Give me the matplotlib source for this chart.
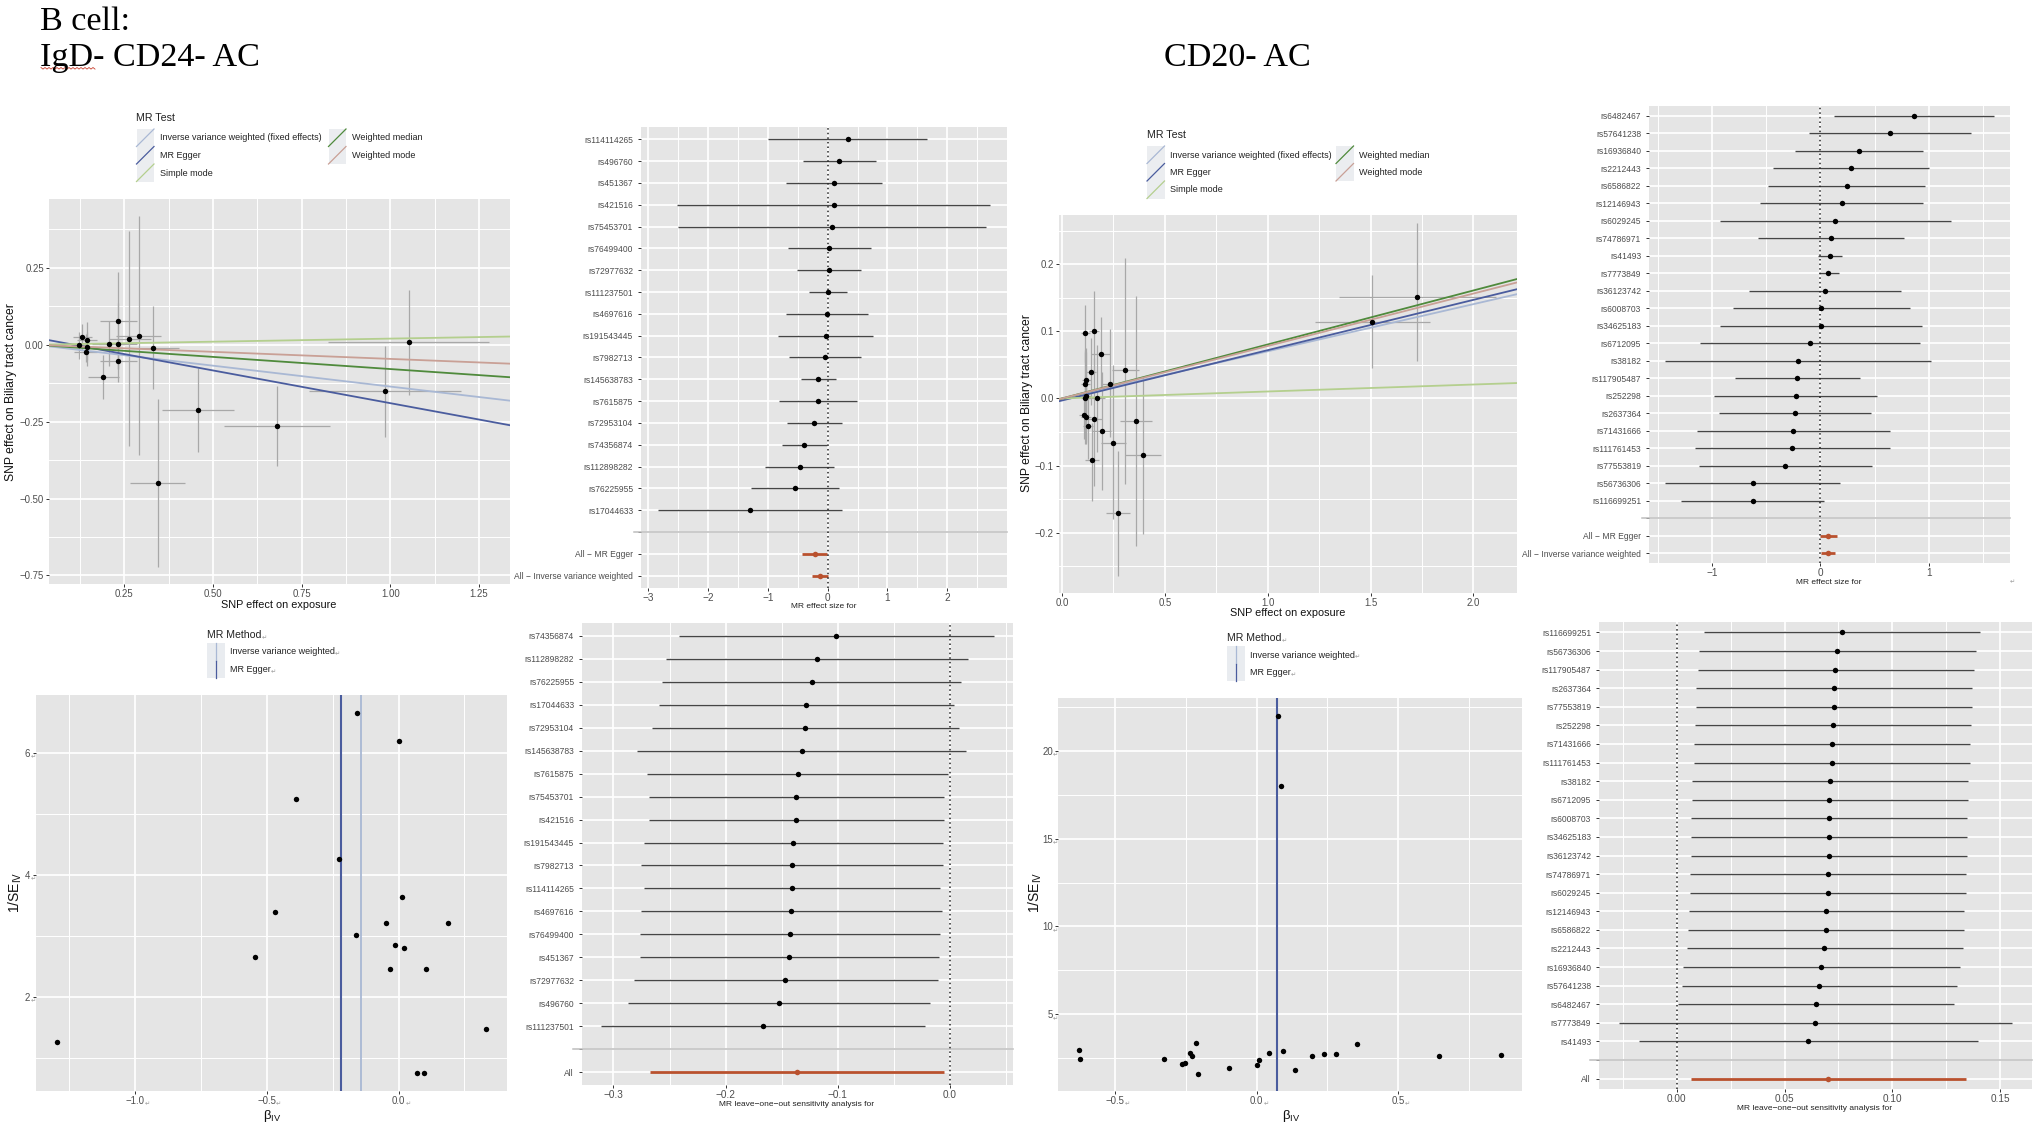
from matplotlib import pyplot as plt
from matplotlib.patches import Rectangle
from matplotlib.ticker import FixedLocator

plt.rcParams['font.family'] = ['Liberation Sans', 'DejaVu Sans']
plt.rcParams['mathtext.default'] = 'regular'

W = 2039
H = 1128

# colours of the MR methods
C_IVW = "#A9B8D4"
C_EGGER = "#4A5C9E"
C_SIMPLE = "#B4CF8E"
C_MEDIAN = "#4F8A3C"
C_MODE = "#C9A096"
C_RED = "#B9512E"
C_BAR = "#A8A8A8"
C_LINE = "#454545"

METHODS = ["Inverse variance weighted (fixed effects)", "MR Egger", "Simple mode", "Weighted median", "Weighted mode"]
METHOD_COLORS = [C_IVW, C_EGGER, C_SIMPLE, C_MEDIAN, C_MODE]

# ---------- IgD- CD24- AC ----------
# scatter: x, y and the error bar ends
a_x = [0.2335, 0.2645, 0.292, 0.332, 0.132, 0.145, 0.122, 0.145, 0.141, 0.206, 0.232, 0.2335, 0.191, 0.459, 0.681, 0.345, 0.985, 1.051]
a_y = [0.078, 0.02, 0.029, -0.01, 0.025, 0.015, 0.0, -0.006, -0.024, 0.004, 0.004, -0.052, -0.105, -0.213, -0.263, -0.449, -0.151, 0.008]
a_xlo = [0.182, 0.206, 0.228, 0.262, 0.107, 0.118, 0.1, 0.12, 0.108, 0.16, 0.18, 0.182, 0.148, 0.357, 0.531, 0.267, 0.77, 0.824]
a_xhi = [0.286, 0.325, 0.355, 0.405, 0.159, 0.172, 0.145, 0.17, 0.172, 0.25, 0.285, 0.286, 0.235, 0.56, 0.83, 0.422, 1.2, 1.279]
a_ylo = [-0.08, -0.329, -0.36, -0.145, -0.017, -0.069, -0.045, -0.05, -0.055, -0.069, -0.08, -0.12, -0.178, -0.349, -0.394, -0.722, -0.299, -0.164]
a_yhi = [0.236, 0.37, 0.418, 0.126, 0.067, 0.075, 0.04, 0.04, 0.035, 0.078, 0.135, 0.004, -0.034, -0.077, -0.134, -0.178, -0.004, 0.178]
a_slopes = [-0.136, -0.213, 0.02, -0.079, -0.046]
a_intercepts = [0.0, 0.023, 0.0, 0.0, 0.0]

# forest
b_labels = ["rs114114265", "rs496760", "rs451367", "rs421516", "rs75453701", "rs76499400", "rs72977632", "rs111237501", "rs4697616", "rs191543445", "rs7982713", "rs145638783", "rs7615875", "rs72953104", "rs74356874", "rs112898282", "rs76225955", "rs17044633", "", "All − MR Egger", "All − Inverse variance weighted"]
b_beta = [0.335, 0.19, 0.106, 0.1, 0.073, 0.022, 0.017, 0.006, -0.011, -0.033, -0.045, -0.156, -0.156, -0.223, -0.39, -0.469, -0.547, -1.306, None, -0.218, -0.134]
b_lo = [-1.0, -0.413, -0.692, -2.52, -2.505, -0.67, -0.519, -0.307, -0.698, -0.826, -0.653, -0.446, -0.809, -0.681, -0.759, -1.044, -1.283, -2.846, None, -0.43, -0.268]
b_hi = [1.668, 0.804, 0.91, 2.72, 2.656, 0.725, 0.558, 0.324, 0.681, 0.765, 0.564, 0.14, 0.497, 0.24, -0.017, 0.112, 0.195, 0.24, None, -0.005, -0.002]

# funnel
c_beta = [-0.158, 0.001, -0.388, -0.224, 0.014, -0.467, -0.049, 0.187, -0.162, -0.013, 0.019, -0.545, -0.033, 0.105, 0.331, -1.296, 0.071, 0.096]
c_inv_se = [6.656, 6.19, 5.246, 4.257, 3.645, 3.399, 3.219, 3.219, 3.011, 2.852, 2.809, 2.656, 2.459, 2.454, 1.475, 1.273, 0.765, 0.754]
c_ivw = -0.141
c_egger = -0.217

# leave one out
d_labels = ["rs74356874", "rs112898282", "rs76225955", "rs17044633", "rs72953104", "rs145638783", "rs7615875", "rs75453701", "rs421516", "rs191543445", "rs7982713", "rs114114265", "rs4697616", "rs76499400", "rs451367", "rs72977632", "rs496760", "rs111237501", "", "All"]
d_beta = [-0.1014, -0.1186, -0.1231, -0.1279, -0.129, -0.1323, -0.1356, -0.1371, -0.1371, -0.1395, -0.1409, -0.1412, -0.1415, -0.1424, -0.1433, -0.1466, -0.1528, -0.1665, None, -0.1365]
d_lo = [-0.2415, -0.2533, -0.2566, -0.2596, -0.2658, -0.2789, -0.2697, -0.2682, -0.2685, -0.2727, -0.2753, -0.273, -0.275, -0.2762, -0.2765, -0.2819, -0.2869, -0.3107, None, -0.2676]
d_hi = [0.039, 0.0164, 0.0101, 0.0039, 0.008, 0.0143, -0.0015, -0.0054, -0.0054, -0.0062, -0.0062, -0.0089, -0.0074, -0.0086, -0.0101, -0.0107, -0.0181, -0.022, None, -0.0051]

# ---------- CD20- AC ----------
e_x = [1.728, 1.507, 0.112, 0.154, 0.188, 0.139, 0.306, 0.117, 0.112, 0.233, 0.115, 0.113, 0.169, 0.107, 0.115, 0.154, 0.125, 0.193, 0.358, 0.248, 0.395, 0.146, 0.272]
e_y = [0.152, 0.114, 0.0975, 0.1, 0.067, 0.04, 0.042, 0.028, 0.022, 0.022, 0.0035, 0.001, 0.0005, -0.025, -0.027, -0.031, -0.041, -0.048, -0.034, -0.066, -0.084, -0.0915, -0.171]
e_xlo = [1.347, 1.228, 0.09, 0.13, 0.143, 0.115, 0.243, 0.095, 0.09, 0.19, 0.09, 0.09, 0.125, 0.085, 0.09, 0.115, 0.1, 0.145, 0.28, 0.19, 0.305, 0.114, 0.212]
e_xhi = [2.11, 1.788, 0.135, 0.18, 0.233, 0.165, 0.373, 0.14, 0.135, 0.28, 0.14, 0.137, 0.21, 0.13, 0.14, 0.195, 0.15, 0.24, 0.4376, 0.31, 0.483, 0.18, 0.332]
e_ylo = [0.056, 0.0457, 0.055, 0.04, 0.012, -0.01, -0.127, -0.02, -0.03, -0.058, -0.065, -0.068, -0.08, -0.06, -0.068, -0.13, -0.09, -0.137, -0.22, -0.18, -0.202, -0.153, -0.2645]
e_yhi = [0.2615, 0.1835, 0.14, 0.16, 0.122, 0.09, 0.21, 0.075, 0.072, 0.104, 0.07, 0.07, 0.08, 0.01, 0.02, 0.06, 0.01, 0.04, 0.153, 0.05, 0.032, -0.037, -0.0786]
e_slopes = [0.0703, 0.075, 0.0104, 0.0805, 0.0782]
e_intercepts = [0.0, -0.003, 0.0, 0.0, 0.0]

f_labels = ["rs6482467", "rs57641238", "rs16936840", "rs2212443", "rs6586822", "rs12146943", "rs6029245", "rs74786971", "rs41493", "rs7773849", "rs36123742", "rs6008703", "rs34625183", "rs6712095", "rs38182", "rs117905487", "rs252298", "rs2637364", "rs71431666", "rs111761453", "rs77553819", "rs56736306", "rs116699251", "", "All − MR Egger", "All − Inverse variance weighted"]
f_beta = [0.861, 0.645, 0.358, 0.281, 0.241, 0.198, 0.136, 0.093, 0.086, 0.074, 0.043, 0.009, 0.003, -0.096, -0.207, -0.216, -0.228, -0.238, -0.253, -0.262, -0.327, -0.623, -0.627, None, 0.071, 0.068]
f_lo = [0.127, -0.102, -0.238, -0.438, -0.485, -0.556, -0.932, -0.58, -0.019, -0.009, -0.657, -0.809, -0.932, -1.111, -1.435, -0.793, -0.981, -0.938, -1.139, -1.164, -1.127, -1.435, -1.29, None, 0.0, 0.006]
f_hi = [1.602, 1.395, 0.951, 1.003, 0.969, 0.951, 1.207, 0.772, 0.198, 0.167, 0.747, 0.83, 0.938, 0.923, 1.022, 0.37, 0.525, 0.466, 0.639, 0.642, 0.475, 0.185, 0.037, None, 0.151, 0.133]

g_beta = [0.0743, 0.0861, -0.627, -0.625, -0.328, -0.264, -0.2535, -0.237, -0.2276, -0.2134, -0.206, -0.0967, 0.0012, 0.0083, 0.0448, 0.0932, 0.1344, 0.1958, 0.2394, 0.2795, 0.355, 0.645, 0.862]
g_inv_se = [21.99, 17.99, 2.97, 2.44, 2.48, 2.19, 2.23, 2.80, 2.63, 3.39, 1.62, 1.97, 2.12, 2.40, 2.82, 2.91, 1.85, 2.63, 2.72, 2.74, 3.33, 2.63, 2.67]
g_ivw = 0.0705
g_egger = 0.0735

h_labels = ["rs116699251", "rs56736306", "rs117905487", "rs2637364", "rs77553819", "rs252298", "rs71431666", "rs111761453", "rs38182", "rs6712095", "rs6008703", "rs34625183", "rs36123742", "rs74786971", "rs6029245", "rs12146943", "rs6586822", "rs2212443", "rs16936840", "rs57641238", "rs6482467", "rs7773849", "rs41493", "", "All"]
h_beta = [0.0767, 0.0745, 0.0736, 0.0728, 0.0728, 0.0724, 0.0719, 0.0719, 0.071, 0.0708, 0.0705, 0.0705, 0.0704, 0.0701, 0.0701, 0.0693, 0.069, 0.0685, 0.067, 0.066, 0.0644, 0.0642, 0.061, None, 0.0702]
h_lo = [0.0128, 0.0106, 0.0097, 0.0088, 0.0088, 0.0083, 0.008, 0.008, 0.0073, 0.0071, 0.0068, 0.0068, 0.0065, 0.0062, 0.0063, 0.0056, 0.0051, 0.0048, 0.0029, 0.0023, 0.0005, -0.0269, -0.0174, None, 0.0066]
h_hi = [0.1407, 0.1387, 0.138, 0.137, 0.1369, 0.1364, 0.136, 0.136, 0.135, 0.1349, 0.1346, 0.1344, 0.1344, 0.1341, 0.134, 0.1333, 0.133, 0.1326, 0.1312, 0.1301, 0.1284, 0.1554, 0.1397, None, 0.1341]


def add_panel(fig, left, top, right, bottom):
    """axes placed by picture pixels, ggplot grey look"""
    ax = fig.add_axes([left / W, 1 - bottom / H, (right - left) / W, (bottom - top) / H])
    ax.set_facecolor("#E5E5E5")
    for s in ax.spines.values():
        s.set_visible(False)
    ax.set_axisbelow(True)
    ax.tick_params(which="major", length=2.2, width=0.7, color="#333333", labelcolor="#4D4D4D", labelsize=6.9, pad=1.5)
    ax.tick_params(which="minor", length=0)
    ax.grid(which="major", color="white", linewidth=1.25)
    ax.grid(which="minor", color="white", linewidth=0.7)
    return ax


def set_ticks(ax, xticks, xlabels, yticks, ylabels, xminor=None, yminor=None):
    ax.set_xticks(xticks)
    ax.set_xticklabels(xlabels)
    ax.set_yticks(yticks)
    ax.set_yticklabels(ylabels)
    if xminor is not None:
        ax.xaxis.set_minor_locator(FixedLocator(xminor))
    if yminor is not None:
        ax.yaxis.set_minor_locator(FixedLocator(yminor))


def plot_scatter(ax, x, y, xlo, xhi, ylo, yhi, slopes, intercepts, xlim, ylim):
    ax.hlines(y, xlo, xhi, color=C_BAR, linewidth=0.9, zorder=2)
    ax.vlines(x, ylo, yhi, color=C_BAR, linewidth=0.9, zorder=2)
    ax.set_xlim(xlim)
    ax.set_ylim(ylim)
    for slope, intercept, color in zip(slopes, intercepts, METHOD_COLORS):
        ax.axline((0, intercept), slope=slope, color=color, linewidth=1.3, zorder=3)
    ax.plot(x, y, "o", color="black", markersize=3.9, markeredgewidth=0, zorder=4)


def plot_forest(ax, labels, beta, lo, hi, xticks, xlabels, xminor, xlim, expand=0.56):
    rows = list(range(len(labels)))
    set_ticks(ax, xticks, xlabels, rows, labels, xminor=xminor)
    ax.tick_params(axis="y", labelsize=6.15, pad=3.5)
    ax.tick_params(axis="x", labelsize=7.2)
    for r, label, b, l, h in zip(rows, labels, beta, lo, hi):
        if label == "":
            ax.plot([-0.02, 1], [r, r], color="#BDBDBD", linewidth=1.1, transform=ax.get_yaxis_transform(), clip_on=False, zorder=2)
        elif label.startswith("All"):
            ax.plot([l, h], [r, r], color=C_RED, linewidth=2.0, zorder=3, solid_capstyle="butt")
            ax.plot([b], [r], "o", color=C_RED, markersize=4.0, markeredgewidth=0, zorder=4)
        else:
            ax.plot([l, h], [r, r], color=C_LINE, linewidth=1.0, zorder=3, solid_capstyle="butt")
            ax.plot([b], [r], "o", color="black", markersize=3.9, markeredgewidth=0, zorder=4)
    ax.axvline(0, color="#222222", linewidth=1.1, linestyle=(0, (1, 2.0)), zorder=3)
    ax.set_xlim(xlim)
    ax.set_ylim(len(labels) - 1 + expand, -expand)


def plot_funnel(ax, beta, inv_se, ivw, egger, xlim, ylim):
    ax.axvline(ivw, color=C_IVW, linewidth=1.3, zorder=2)
    ax.axvline(egger, color=C_EGGER, linewidth=1.5, zorder=2)
    ax.plot(beta, inv_se, "o", color="black", markersize=3.9, markeredgewidth=0, zorder=3)
    ax.set_xlim(xlim)
    ax.set_ylim(ylim)
    # stray return marks pasted along with the numbers
    for lab in ax.get_xticklabels() + ax.get_yticklabels():
        ax.annotate("↵", xy=(1, 0.05), xycoords=lab, fontsize=4.5, color="#9A9A9A")


def scatter_legend(ov, x, y, col_gap):
    """x, y: top left of the legend keys, title above"""
    ov.text(x, y - 11, "MR Test", fontsize=7.7, color="#222222", va="center")
    for i, (name, color) in enumerate(zip(METHODS, METHOD_COLORS)):
        kx = x if i < 3 else x + col_gap
        ky = y + 17.5 * (i if i < 3 else i - 3)
        ov.add_patch(Rectangle((kx, ky), 17.5, 17.5, facecolor="#EBEDF0", edgecolor="none"))
        ov.plot([kx, kx + 17.5], [ky + 17.5, ky], color=color, linewidth=0.9)
        ov.text(kx + 23, ky + 9, name, fontsize=6.45, color="#222222", va="center")


def funnel_legend(ov, x, y):
    t = ov.text(x, y - 8, "MR Method", fontsize=7.6, color="#222222", va="center")
    ov.annotate("↵", xy=(1, 0.1), xycoords=t, fontsize=4.5, color="#9A9A9A")
    for i, (name, color) in enumerate(zip(["Inverse variance weighted", "MR Egger"], [C_IVW, C_EGGER])):
        ky = y + 17.5 * i
        ov.add_patch(Rectangle((x, ky), 17.5, 17.5, facecolor="#E9ECF0", edgecolor="none"))
        ov.plot([x + 9, x + 9], [ky, ky + 17.5], color=color, linewidth=0.9)
        t = ov.text(x + 23, ky + 9, name, fontsize=6.45, color="#222222", va="center")
        ov.annotate("↵", xy=(1, 0.1), xycoords=t, fontsize=4.5, color="#9A9A9A")


def main():
    fig = plt.figure(figsize=(W / 100, H / 100), dpi=100)
    fig.patch.set_facecolor("white")

    # scatter, IgD- CD24- AC
    ax = add_panel(fig, 49, 199, 510, 584)
    set_ticks(ax, [0.25, 0.5, 0.75, 1.0, 1.25], ["0.25", "0.50", "0.75", "1.00", "1.25"],
              [-0.75, -0.5, -0.25, 0, 0.25], ["−0.75", "−0.50", "−0.25", "0.00", "0.25"],
              xminor=[0.125, 0.375, 0.625, 0.875, 1.125], yminor=[-0.625, -0.375, -0.125, 0.125, 0.375])
    plot_scatter(ax, a_x, a_y, a_xlo, a_xhi, a_ylo, a_yhi, a_slopes, a_intercepts, (0.038, 1.337), (-0.778, 0.474))

    # forest
    ax = add_panel(fig, 641, 127, 1007, 588)
    plot_forest(ax, b_labels, b_beta, b_lo, b_hi, [-3, -2, -1, 0, 1, 2], ["−3", "−2", "−1", "0", "1", "2"],
                [-2.5, -1.5, -0.5, 0.5, 1.5, 2.5], (-3.125, 3.0))

    # funnel
    ax = add_panel(fig, 35.5, 695, 507, 1091)
    set_ticks(ax, [-1.0, -0.5, 0.0], ["−1.0", "−0.5", "0.0"], [2, 4, 6], ["2", "4", "6"],
              xminor=[-1.25, -0.75, -0.25, 0.25], yminor=[1, 3, 5])
    plot_funnel(ax, c_beta, c_inv_se, c_ivw, c_egger, (-1.377, 0.4115), (0.464, 6.945))

    # leave one out
    ax = add_panel(fig, 582, 623, 1013, 1085)
    plot_forest(ax, d_labels, d_beta, d_lo, d_hi, [-0.3, -0.2, -0.1, 0.0], ["−0.3", "−0.2", "−0.1", "0.0"],
                [-0.25, -0.15, -0.05, 0.05], (-0.328, 0.0562))

    # scatter, CD20- AC
    ax = add_panel(fig, 1059, 215, 1517, 593)
    set_ticks(ax, [0, 0.5, 1.0, 1.5, 2.0], ["0.0", "0.5", "1.0", "1.5", "2.0"],
              [-0.2, -0.1, 0, 0.1, 0.2], ["−0.2", "−0.1", "0.0", "0.1", "0.2"],
              xminor=[0.25, 0.75, 1.25, 1.75], yminor=[-0.25, -0.15, -0.05, 0.05, 0.15, 0.25])
    plot_scatter(ax, e_x, e_y, e_xlo, e_xhi, e_ylo, e_yhi, e_slopes, e_intercepts, (-0.0146, 2.212), (-0.29, 0.2735))

    # forest
    ax = add_panel(fig, 1649, 106, 2010, 563)
    plot_forest(ax, f_labels, f_beta, f_lo, f_hi, [-1, 0, 1], ["−1", "0", "1"],
                [-1.5, -0.5, 0.5, 1.5], (-1.586, 1.753))

    # funnel
    ax = add_panel(fig, 1058, 698, 1522, 1091)
    set_ticks(ax, [-0.5, 0.0, 0.5], ["−0.5", "0.0", "0.5"], [5, 10, 15, 20], ["5", "10", "15", "20"],
              xminor=[-0.25, 0.25, 0.75], yminor=[2.5, 7.5, 12.5, 17.5, 22.5])
    plot_funnel(ax, g_beta, g_inv_se, g_ivw, g_egger, (-0.7017, 0.9375), (0.638, 23.0))

    # leave one out
    ax = add_panel(fig, 1599, 622, 2032, 1089)
    plot_forest(ax, h_labels, h_beta, h_lo, h_hi, [0.0, 0.05, 0.10, 0.15], ["0.00", "0.05", "0.10", "0.15"],
                [-0.025, 0.025, 0.075, 0.125], (-0.03596, 0.16466))

    # overlay in picture pixels for titles, legends and axis titles
    ov = fig.add_axes([0, 0, 1, 1], zorder=10)
    ov.set_xlim(0, W)
    ov.set_ylim(H, 0)
    ov.axis("off")
    ov.patch.set_alpha(0)

    serif = ["Liberation Serif", "DejaVu Serif"]
    ov.text(40, 30, "B cell:", fontsize=24.6, family=serif, color="black", va="baseline")
    ov.text(40, 66, "IgD- CD24- AC", fontsize=24.6, family=serif, color="black", va="baseline")
    ov.text(1164, 66, "CD20- AC", fontsize=24.6, family=serif, color="black", va="baseline")
    # spell check squiggle under IgD
    squiggle_x = list(range(41, 97, 2))
    ov.plot(squiggle_x, [67.5 + (i % 2) * 1.6 for i in range(len(squiggle_x))], color="#C8402F", linewidth=0.6)

    scatter_legend(ov, 136.5, 129, 192)
    scatter_legend(ov, 1147, 146, 189)
    funnel_legend(ov, 207, 643)
    funnel_legend(ov, 1227, 646)

    lab = {"fontsize": 7.8, "color": "#111111", "ha": "center", "va": "center"}
    ylab = dict(lab, fontsize=8.7, rotation=90)
    ov.text(279, 605, "SNP effect on exposure", **lab)
    ov.text(1288, 613, "SNP effect on exposure", **lab)
    ov.text(11.5, 392, "SNP effect on Biliary tract cancer", **ylab)
    ov.text(1027, 403, "SNP effect on Biliary tract cancer", **ylab)

    small = {"fontsize": 6.0, "color": "#222222", "ha": "center", "va": "center"}
    ov.text(824, 607, "MR effect size for", **small)
    ov.text(1829, 582, "MR effect size for", **small)
    ov.text(797, 1105, "MR leave−one−out sensitivity analysis for", **small)
    ov.text(1815, 1108, "MR leave−one−out sensitivity analysis for", **small)
    ov.text(2012, 582, "↵", fontsize=4.5, color="#9A9A9A", ha="center", va="center")

    se_label = r"$1/SE_{IV}$"
    beta_label = r"$\beta_{IV}$"
    ov.text(15, 892, se_label, **dict(ylab, fontsize=10))
    ov.text(1035, 892, se_label, **dict(ylab, fontsize=10))
    ov.text(272, 1116, beta_label, **dict(lab, fontsize=9.5))
    ov.text(1291, 1116, beta_label, **dict(lab, fontsize=9.5))

    fig.savefig("out.png", dpi=100)
    plt.close(fig)


if __name__ == '__main__':
    main()
